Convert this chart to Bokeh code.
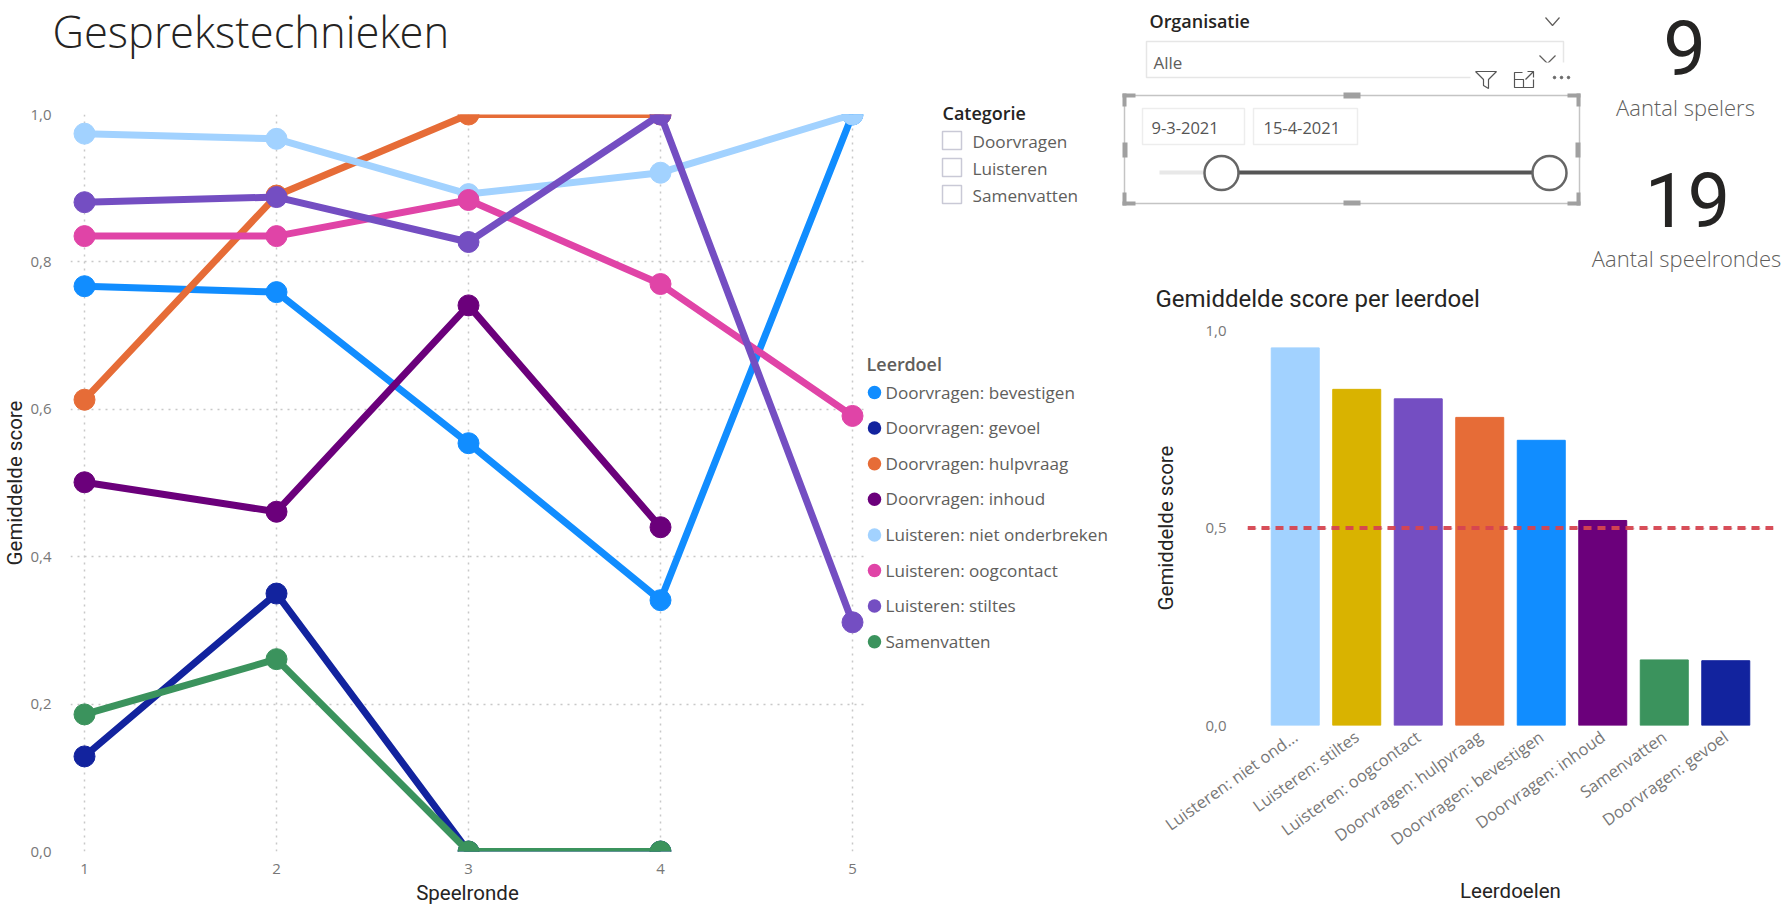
from bokeh.core.properties import value
from bokeh.embed import file_html
from bokeh.layouts import column, row
from bokeh.models import FactorRange, FixedTicker, Range1d, Span
from bokeh.plotting import figure
from bokeh.resources import INLINE

nan = float("nan")

# Score per game round, one list per learning goal
rounds = [1, 2, 3, 4, 5]
bevestigen = [0.767, 0.759, 0.554, 0.341, 1.0]
gevoel = [0.129, 0.350, 0.0, 0.0, nan]
hulpvraag = [0.613, 0.890, 1.0, 1.0, nan]
inhoud = [0.501, 0.461, 0.741, 0.440, nan]
niet_onderbreken = [0.974, 0.967, 0.892, 0.921, 1.0]
oogcontact = [0.835, 0.835, 0.884, 0.770, 0.591]
stiltes = [0.881, 0.888, 0.827, 1.0, 0.311]
samenvatten = [0.186, 0.261, 0.0, 0.0, nan]

series_names = ["Doorvragen: bevestigen", "Doorvragen: gevoel", "Doorvragen: hulpvraag",
                "Doorvragen: inhoud", "Luisteren: niet onderbreken", "Luisteren: oogcontact",
                "Luisteren: stiltes", "Samenvatten"]
series_values = [bevestigen, gevoel, hulpvraag, inhoud, niet_onderbreken, oogcontact,
                 stiltes, samenvatten]
series_colors = ["#118DFF", "#12239E", "#E66C37", "#6B007B", "#A2D2FF", "#E044A7",
                 "#744EC2", "#3B935D"]

line_y_ticks = [0.0, 0.2, 0.4, 0.6, 0.8, 1.0]
line_y_labels = ["0,0", "0,2", "0,4", "0,6", "0,8", "1,0"]

# Average score per learning goal, sorted high to low
bar_names = ["Luisteren: niet ond...", "Luisteren: stiltes", "Luisteren: oogcontact",
             "Doorvragen: hulpvraag", "Doorvragen: bevestigen", "Doorvragen: inhoud",
             "Samenvatten", "Doorvragen: gevoel"]
bar_values = [0.956, 0.851, 0.827, 0.780, 0.722, 0.519, 0.166, 0.164]
bar_colors = ["#A2D2FF", "#D9B300", "#744EC2", "#E66C37", "#118DFF", "#6B007B",
              "#3B935D", "#12239E"]
bar_y_ticks = [0.0, 0.5, 1.0]
bar_y_labels = ["0,0", "0,5", "1,0"]
target_score = 0.5

categories = ["Doorvragen", "Luisteren", "Samenvatten"]
player_count = "9"
round_count = "19"

BODY = "Open Sans"
LIGHT = "'Open Sans Light', 'Open Sans'"
SEMI = "'Open Sans SemiBold', 'Open Sans'"
HEAD = "Roboto"
DARK = "#252423"
GREY = "#605E5C"
TICK = "#777777"
GRID = "#C8C8C8"


def style_axes(p, x_size, y_size):
    p.outline_line_color = None
    for ax in (p.xaxis[0], p.yaxis[0]):
        ax.axis_line_color = None
        ax.major_tick_line_color = None
        ax.minor_tick_line_color = None
        ax.major_label_text_font = BODY
        ax.major_label_text_color = TICK
        ax.axis_label_text_font = HEAD
        ax.axis_label_text_font_style = "normal"
        ax.axis_label_text_color = DARK
        ax.axis_label_text_font_size = "20.5px"
    p.xaxis[0].major_label_text_font_size = x_size
    p.yaxis[0].major_label_text_font_size = y_size


def pixel_figure(width, height, x0, x1, y0, y1):
    """A bare figure whose data coordinates are page pixels."""
    p = figure(width=width, height=height, output_backend="svg", toolbar_location=None,
               x_range=Range1d(x0, x1), y_range=Range1d(y1, y0), min_border=0, frame_align=False)
    p.axis.visible = False
    p.grid.visible = False
    p.outline_line_color = None
    return p


def put_text(p, text, x, y, size, color, align="left", font=BODY, style="normal"):
    p.text([x], [y], text=[text], text_font=value(font), text_font_size=size,
           text_color=color, text_align=align, text_baseline="middle", text_font_style=style)


def outline(p, left, right, top, bottom, color, width=1.5):
    p.quad(left=[left], right=[right], top=[top], bottom=[bottom], fill_color="white",
           line_color=color, line_width=width)


def solid(p, left, right, top, bottom, color="#A0A0A0"):
    p.quad(left=[left], right=[right], top=[top], bottom=[bottom], fill_color=color,
           line_color=None)


# Page heading, set as the title of an otherwise empty strip
head_fig = pixel_figure(864, 60, 0, 864, 0, 60)
head_fig.title.text = "Gesprekstechnieken"
head_fig.title.text_font = LIGHT
head_fig.title.text_font_size = "43.5px"
head_fig.title.text_font_style = "normal"
head_fig.title.text_color = DARK
head_fig.title.offset = 52
head_fig.title.standoff = 0

# Line chart: score per round
line_fig = figure(width=864, height=847, output_backend="svg", toolbar_location=None,
                  x_range=Range1d(1 - 14 / 192, 5 + 12 / 192), y_range=Range1d(0, 1),
                  min_border_left=70, min_border_right=0, min_border_top=54,
                  min_border_bottom=53, frame_align=False)
line_fig.xaxis.axis_label = "Speelronde"
line_fig.yaxis.axis_label = "Gemiddelde score"
style_axes(line_fig, "15px", "15px")
line_fig.xaxis.ticker = FixedTicker(ticks=rounds)
line_fig.yaxis.ticker = FixedTicker(ticks=line_y_ticks)
line_fig.yaxis.major_label_overrides = dict(zip(line_y_ticks, line_y_labels))
line_fig.xaxis.major_label_standoff = 6
line_fig.xaxis.axis_label_standoff = 4
line_fig.yaxis.major_label_standoff = 13
line_fig.yaxis.axis_label_standoff = 0
line_fig.grid.grid_line_color = GRID
line_fig.grid.grid_line_dash = "2 5"
line_fig.grid.grid_line_width = 1.5

for name, vals, color in zip(series_names, series_values, series_colors):
    line_fig.line(rounds, vals, line_color=color, line_width=7, line_join="round")
    line_fig.scatter(rounds, vals, size=21, fill_color=color, line_color=color)

# Category slicer and the colour key of the line chart
key_fig = pixel_figure(246, 907, 864, 1110, 0, 907)
put_text(key_fig, "Leerdoel", 866, 363, "18px", GREY, font=SEMI)
key_y = [392 + 35.6 * i for i in range(len(series_names))]
key_fig.scatter([874] * len(key_y), key_y, size=13.5, fill_color=series_colors, line_color=None)
for name, y in zip(series_names, key_y):
    put_text(key_fig, name, 885, y - 0.5, "17.1px", GREY)

put_text(key_fig, "Categorie", 942, 112, "18px", DARK, font=SEMI)
for cat, top in zip(categories, [131, 158, 185]):
    outline(key_fig, 942, 961, top, top + 18, "#C9C9D6")
    put_text(key_fig, cat, 972, top + 10, "17.2px", GREY)

# Slicers, count cards and the bar chart heading
top_fig = pixel_figure(675, 312, 1110, 1785, 0, 312)
put_text(top_fig, "Organisatie", 1149, 20, "18px", DARK, font=SEMI)
top_fig.line([1545, 1552, 1559], [17, 25, 17], line_color=GREY, line_width=1.2)
outline(top_fig, 1146, 1563, 41, 77, "#E6E6E6")
put_text(top_fig, "Alle", 1153, 62, "17px", GREY)
top_fig.line([1539, 1547, 1555], [55, 63, 55], line_color=GREY, line_width=1.2)
solid(top_fig, 1470, 1575, 62, 92, "white")

# Visual header icons
top_fig.line([1475, 1496, 1488, 1488, 1483, 1483, 1475], [71, 71, 79, 88, 85, 79, 71],
             line_color="#555555", line_width=1.2)
top_fig.line([1522, 1514, 1514, 1533, 1533], [72, 72, 87, 87, 79], line_color="#555555", line_width=1.2)
top_fig.line([1514, 1523, 1523], [79, 79, 87], line_color="#555555", line_width=1.2)
top_fig.line([1525, 1533], [79, 71], line_color="#555555", line_width=1.2)
top_fig.line([1527, 1533, 1533], [71, 71, 77], line_color="#555555", line_width=1.2)
top_fig.scatter([1554, 1561, 1568], [77, 77, 77], size=2.5, color="#666666")

# Date range slicer with selection handles
outline(top_fig, 1124, 1579, 95, 203, "#C4C4C4")
for h in ([1122, 1135, 93, 97], [1122, 1126, 93, 106], [1567, 1580, 93, 97], [1576, 1580, 93, 106],
          [1122, 1135, 201, 205], [1122, 1126, 192, 205], [1567, 1580, 201, 205], [1576, 1580, 192, 205],
          [1343, 1360, 92, 98], [1343, 1360, 200, 205], [1122, 1127, 142, 157], [1575, 1580, 142, 157]):
    solid(top_fig, *h)
outline(top_fig, 1142, 1244, 108, 144, "#EDEDED")
outline(top_fig, 1253, 1357, 108, 144, "#EDEDED")
put_text(top_fig, "9-3-2021", 1151, 127, "16.5px", "#555555")
put_text(top_fig, "15-4-2021", 1263, 127, "16.5px", "#555555")
solid(top_fig, 1159, 1205, 170, 174, "#E8E8E8")
solid(top_fig, 1221, 1549, 170, 174, "#555555")
top_fig.scatter([1221, 1549], [172.5, 172.5], size=34, fill_color="white",
                line_color="#666666", line_width=2.5)

# Count cards
put_text(top_fig, player_count, 1684, 47, "76px", DARK, "center", HEAD)
put_text(top_fig, "Aantal spelers", 1685, 106, "22px", GREY, "center", LIGHT)
put_text(top_fig, round_count, 1687, 199, "76px", DARK, "center", HEAD)
put_text(top_fig, "Aantal speelrondes", 1686, 257, "22px", GREY, "center", LIGHT)

put_text(top_fig, "Gemiddelde score per leerdoel", 1155, 298, "24px", DARK, font=HEAD)

# Bar chart: average score per learning goal
bar_fig = figure(width=675, height=595, output_backend="svg", toolbar_location=None,
                 x_range=FactorRange(factors=bar_names, range_padding=0.069),
                 y_range=Range1d(0, 1), min_border_left=137, min_border_right=12,
                 min_border_top=18, min_border_bottom=182, frame_align=False)
bar_fig.xaxis.axis_label = "Leerdoelen"
bar_fig.yaxis.axis_label = "Gemiddelde score"
style_axes(bar_fig, "16.5px", "15px")
bar_fig.xaxis.major_label_orientation = 0.62
bar_fig.xaxis.major_label_standoff = 3
bar_fig.xaxis.axis_label_standoff = 17
bar_fig.yaxis.ticker = FixedTicker(ticks=bar_y_ticks)
bar_fig.yaxis.major_label_overrides = dict(zip(bar_y_ticks, bar_y_labels))
bar_fig.yaxis.major_label_standoff = 15
bar_fig.yaxis.axis_label_standoff = 24
bar_fig.xgrid.visible = False
bar_fig.ygrid.grid_line_color = GRID
bar_fig.ygrid.grid_line_dash = "2 5"
bar_fig.ygrid.grid_line_width = 1.5
bar_fig.vbar(x=bar_names, top=bar_values, width=0.78, color=bar_colors)
bar_fig.add_layout(Span(location=target_score, dimension="width", line_color="#D64550",
                        line_width=4, line_dash="8 6", line_alpha=0.95))

page = row(column(head_fig, line_fig, spacing=0), key_fig, column(top_fig, bar_fig, spacing=0),
           spacing=0)
open("out.html", "w").write(file_html(page, INLINE))
